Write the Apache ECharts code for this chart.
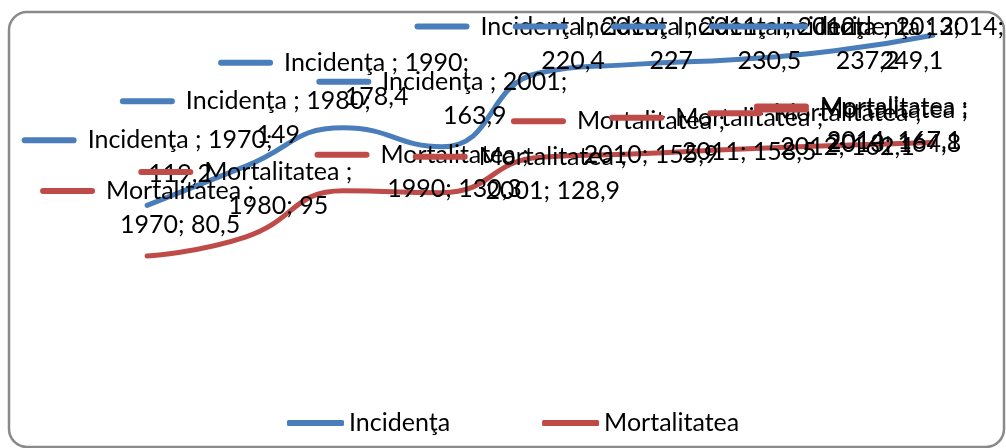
<!DOCTYPE html>
<html>
<head>
<meta charset="utf-8">
<script src="https://cdn.jsdelivr.net/npm/echarts@6/dist/echarts.min.js"></script>
<style>
html,body{margin:0;padding:0;background:#fff;}
#chart{width:1006px;height:448px;}
</style>
</head>
<body>
<div id="chart"></div>
<script>
var years = ['1970', '1980', '1990', '2001', '2010', '2011', '2012', '2013', '2014'];
var incidenta = [119.2, 149, 178.4, 163.9, 220.4, 227, 230.5, 237.2, 249.1];
var mortalitatea = [80.5, 95, 130.3, 128.9, 155.9, 158.5, 162.1, 164.8, 167.1];
var seriesNames = ['Incidenţa', 'Mortalitatea'];
var colors = ['#4A7EBB', '#BE4B48'];

var FONT = 'Lato';
var FS = 25;

function num(v) { return String(v).replace('.', ','); }

function rich(color) {
  return {
    k: { width: 55, height: 6, backgroundColor: color, borderRadius: 3, align: 'center', verticalAlign: 'middle' },
    g: { width: 11, height: 6, align: 'center' },
    s: { width: 66, height: 6, align: 'center' },
    t: { fontFamily: FONT, fontSize: FS, color: '#000', lineHeight: 34, align: 'center', verticalAlign: 'middle' }
  };
}

var chart = echarts.init(document.getElementById('chart'), null, { renderer: 'canvas' });

function makeLayout(si) {
  return function (p) {
    var r = p.labelRect;
    var dx = 0, dy = 0;
    if (si === 1 && p.dataIndex >= 2) { dx = 78; dy = 29; }
    var limR = si === 0 ? 1004 : 968;
    var over = r.x + dx + r.width - limR;
    if (over > 0) dx -= over;
    if (r.y + dy < 14) dy = 14 - r.y;
    return { dx: dx, dy: dy };
  };
}

var option = {
  animation: false,
  backgroundColor: '#fff',
  graphic: [{
    type: 'rect',
    z: -10,
    shape: { x: 9, y: 12, width: 995, height: 435, r: 18 },
    style: { fill: 'none', stroke: '#8a8a8a', lineWidth: 2.5 }
  }],
  grid: { left: 98, right: 24, top: 34, bottom: 86.5 },
  xAxis: { type: 'category', data: years, boundaryGap: true, show: false },
  yAxis: { type: 'value', min: 0, max: 250, show: false, splitLine: { show: false } },
  legend: {
    left: 282, top: 404,
    itemWidth: 57, itemHeight: 6, itemGap: 92,
    icon: 'roundRect',
    textStyle: { fontFamily: FONT, fontSize: FS, color: '#000', lineHeight: 28 },
    data: seriesNames
  },
  series: [
    {
      name: seriesNames[0], type: 'line', data: incidenta, smooth: true,
      symbol: 'circle', symbolSize: 0,
      itemStyle: { color: colors[0] },
      lineStyle: { color: colors[0], width: 5, cap: 'round' },
      label: {
        show: true, position: 'top', distance: 14,
        formatter: function (p) {
          return '{k|}{g|}{t|' + seriesNames[0] + ' ; ' + p.name + ';}\n{s|}{t|' + num(p.value) + '}';
        },
        rich: rich(colors[0])
      },
      labelLayout: makeLayout(0)
    },
    {
      name: seriesNames[1], type: 'line', data: mortalitatea, smooth: true,
      symbol: 'circle', symbolSize: 0,
      itemStyle: { color: colors[1] },
      lineStyle: { color: colors[1], width: 5, cap: 'round' },
      label: {
        show: true, position: 'top', distance: 14,
        formatter: function (p) {
          return '{k|}{g|}{t|' + seriesNames[1] + ' ;}\n{s|}{t|' + p.name + '; ' + num(p.value) + '}';
        },
        rich: rich(colors[1])
      },
      labelLayout: makeLayout(1)
    }
  ]
};
chart.setOption(option);
</script>
</body>
</html>
